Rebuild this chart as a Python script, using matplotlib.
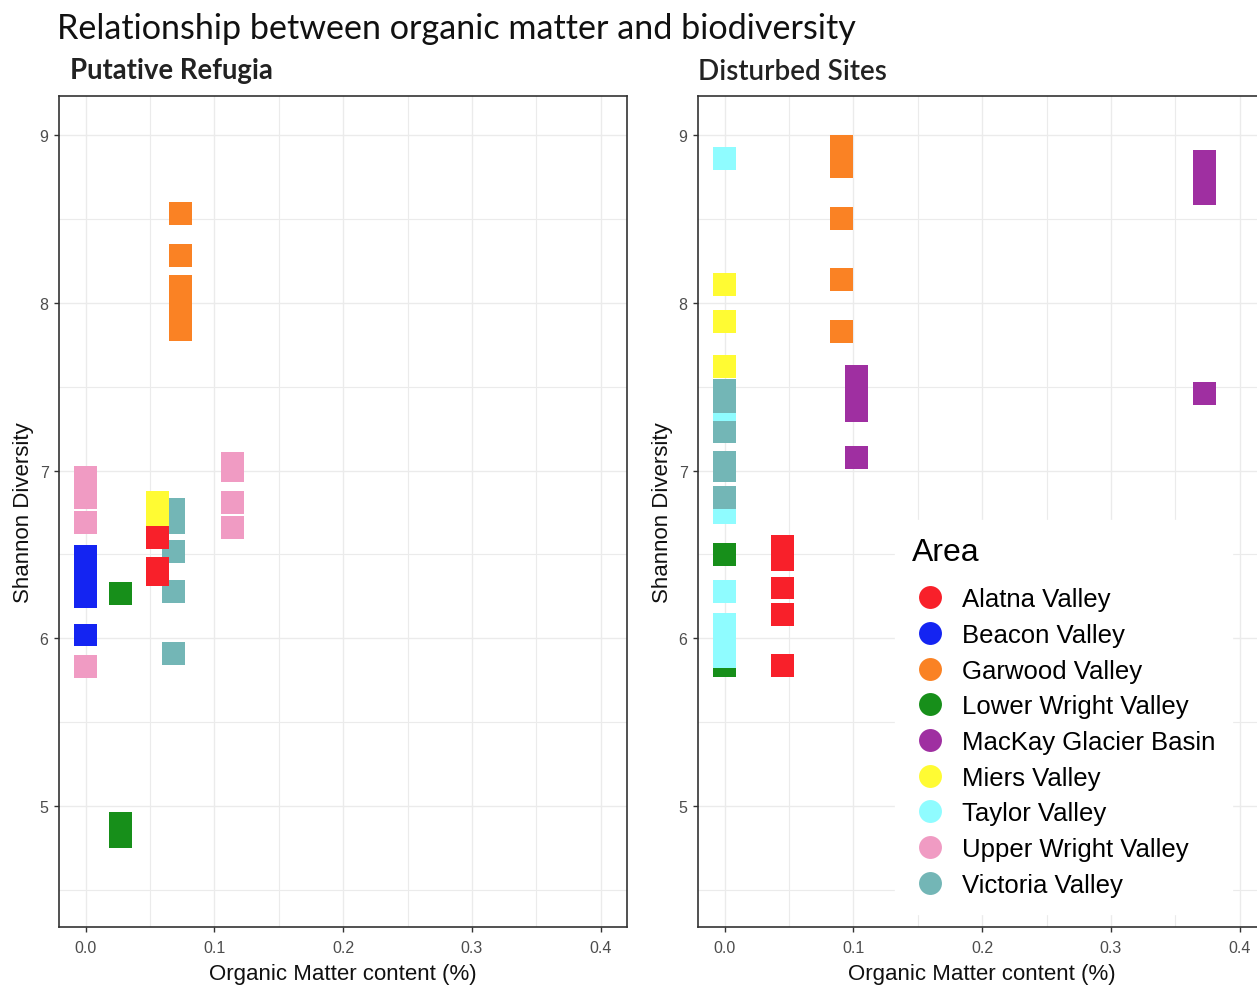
import matplotlib
matplotlib.use("Agg")
import matplotlib.pyplot as plt
from matplotlib.lines import Line2D
from matplotlib.ticker import MultipleLocator, FormatStrFormatter

# areas and colours (legend order)
areas = ["Alatna Valley", "Beacon Valley", "Garwood Valley", "Lower Wright Valley",
         "MacKay Glacier Basin", "Miers Valley", "Taylor Valley",
         "Upper Wright Valley", "Victoria Valley"]
area_colors = ["#F8202A", "#1424F2", "#FA8224", "#178F1A", "#9F2FA1",
               "#FFFB33", "#8FFCFF", "#F09BC3", "#73B6B6"]

# putative refugia samples
refugia_area = (["Lower Wright Valley"] * 3 + ["Victoria Valley"] * 5 + ["Miers Valley"] * 2 +
                ["Alatna Valley"] * 3 + ["Beacon Valley"] * 4 + ["Upper Wright Valley"] * 8 +
                ["Garwood Valley"] * 5)
refugia_om = ([0.027, 0.027, 0.027] + [0.068] * 5 + [0.056] * 2 + [0.056] * 3 + [0.0] * 4 +
              [0.0] * 4 + [0.114] * 4 + [0.074] * 5)
refugia_sd = ([6.27, 4.90, 4.82] + [6.77, 6.69, 6.52, 6.28, 5.91] + [6.81, 6.74] +
              [6.60, 6.415, 6.38] + [6.49, 6.37, 6.25, 6.02] +
              [6.96, 6.84, 6.69, 5.83] + [7.04, 7.00, 6.81, 6.66] +
              [8.53, 8.28, 8.10, 7.97, 7.84])

# disturbed sites samples
disturbed_area = (["Lower Wright Valley"] * 2 + ["Taylor Valley"] * 7 + ["Victoria Valley"] * 6 +
                  ["Miers Valley"] * 3 + ["Alatna Valley"] * 5 + ["Garwood Valley"] * 5 +
                  ["MacKay Glacier Basin"] * 8)
disturbed_om = ([0.0] * 2 + [0.0] * 7 + [0.0] * 6 + [0.0] * 3 + [0.045] * 5 + [0.0905] * 5 +
                [0.1025] * 4 + [0.373] * 4)
disturbed_sd = ([6.50, 5.84] + [8.86, 7.32, 6.75, 6.28, 6.08, 5.99, 5.89] +
                [7.48, 7.41, 7.23, 7.05, 7.00, 6.84] + [8.11, 7.89, 7.62] +
                [6.55, 6.47, 6.30, 6.14, 5.84] + [8.93, 8.81, 8.50, 8.14, 7.83] +
                [7.56, 7.46, 7.36, 7.08, 8.84, 8.75, 8.65, 7.46])

color_of = dict(zip(areas, area_colors))

plt.rcParams["font.family"] = ["Liberation Sans", "DejaVu Sans"]

fig = plt.figure(figsize=(12.57, 9.87), dpi=100)
ax1 = fig.add_axes([59 / 1257, 59 / 987, 568 / 1257, 831 / 987])
ax2 = fig.add_axes([698 / 1257, 59 / 987, 568 / 1257, 831 / 987])


def draw_panel(ax, area, om, sd):
    ax.scatter(om, sd, c=[color_of[a] for a in area], marker="s", s=272, linewidths=0, zorder=3)
    ax.set_xlim(-0.0206, 0.4204)
    ax.set_ylim(4.28, 9.232)
    ax.xaxis.set_major_locator(MultipleLocator(0.1))
    ax.xaxis.set_minor_locator(MultipleLocator(0.05))
    ax.yaxis.set_major_locator(MultipleLocator(1))
    ax.yaxis.set_minor_locator(MultipleLocator(0.5))
    ax.xaxis.set_major_formatter(FormatStrFormatter("%.1f"))
    ax.grid(which="major", color="#EBEBEB", linewidth=1.0, zorder=0)
    ax.grid(which="minor", color="#EBEBEB", linewidth=0.8, zorder=0)
    ax.set_axisbelow(True)
    for sp in ax.spines.values():
        sp.set_color("#333333")
        sp.set_linewidth(1.2)
    ax.tick_params(which="major", length=3.5, width=1.0, color="#333333",
                   labelsize=11.5, labelcolor="#4D4D4D", pad=4)
    ax.tick_params(axis="x", which="major", pad=6)
    ax.tick_params(which="minor", length=0)
    ax.set_xlabel("Organic Matter content (%)", fontsize=16, color="#111111")
    ax.set_ylabel("Shannon Diversity", fontsize=16, color="#111111")
    ax.xaxis.label.set_va("center")
    ax.yaxis.label.set_va("center")
    ax.xaxis.set_label_coords(0.5, -0.056)
    ax.yaxis.set_label_coords(-0.062, 0.5)


draw_panel(ax1, refugia_area, refugia_om, refugia_sd)
draw_panel(ax2, disturbed_area, disturbed_om, disturbed_sd)

# titles
fig.text(57 / 1257, 1 - 39 / 987, "Relationship between organic matter and biodiversity",
         fontsize=24.6, family="Lato", va="baseline", ha="left", color="#111111")
fig.text(70 / 1257, 1 - 79 / 987, "Putative Refugia", fontsize=19.8, family="Lato",
         fontweight="bold", va="baseline", ha="left", color="#222222")
fig.text(698 / 1257, 1 - 80 / 987, "Disturbed Sites", fontsize=20, family="Lato",
         fontweight="semibold", va="baseline", ha="left", color="#222222")

# legend
handles = [Line2D([], [], marker="o", linestyle="none", markersize=16.5,
                  markerfacecolor=c, markeredgewidth=0) for c in area_colors]
leg = ax2.legend(handles, areas, title="Area", loc="upper left",
                 bbox_to_anchor=(895 / 1257, 1 - 521 / 987), bbox_transform=fig.transFigure,
                 fontsize=18.5, title_fontsize=23, frameon=True, fancybox=False,
                 handlelength=1.4, handletextpad=0.55, labelspacing=0.456,
                 borderpad=0.65, borderaxespad=0, alignment="left")
leg._legend_box.sep = 14.7  # gap between "Area" and the first entry
leg.get_frame().set_facecolor("white")
leg.get_frame().set_edgecolor("white")
leg.get_frame().set_alpha(1)

plt.savefig("out.png", dpi=100)
